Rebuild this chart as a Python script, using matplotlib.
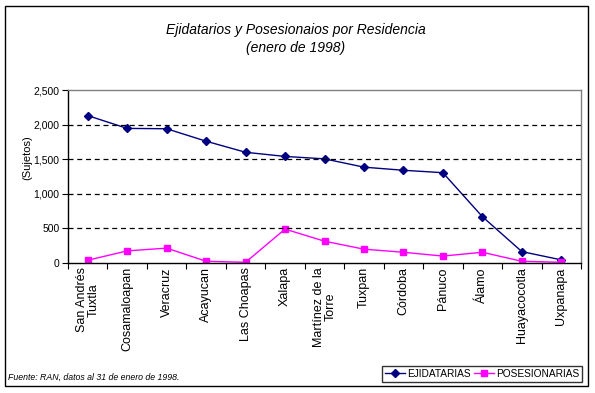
import matplotlib.pyplot as plt
from matplotlib.patches import Rectangle
from matplotlib.ticker import FuncFormatter

plt.rcParams['font.family'] = ['Liberation Sans', 'DejaVu Sans']

# datos
municipios = ['San Andrés\nTuxtla', 'Cosamaloapan', 'Veracruz', 'Acayucan', 'Las Choapas',
              'Xalapa', 'Martínez de la\nTorre', 'Tuxpan', 'Córdoba', 'Pánuco', 'Álamo',
              'Huayacocotla', 'Uxpanapa']
ejidatarias = [2130, 1945, 1940, 1760, 1600, 1540, 1505, 1385, 1340, 1305, 670, 165, 45]
posesionarias = [40, 175, 215, 25, 10, 490, 315, 200, 155, 100, 155, 25, 10]
yticks = [0, 500, 1000, 1500, 2000, 2500]

W, H = 595, 393
fig = plt.figure(figsize=(W / 100, H / 100), dpi=100)
ax = fig.add_axes([68 / W, 1 - 263 / H, (581 - 68) / W, (263 - 90) / H])

x = [i + 0.5 for i in range(len(municipios))]
ax.plot(x, ejidatarias, color='#000080', lw=1, marker='D', ms=4.5, label='EJIDATARIAS')
ax.plot(x, posesionarias, color='#FF00FF', lw=1, marker='s', ms=5, label='POSESIONARIAS')

ax.set_xlim(0, len(municipios))
ax.set_ylim(0, 2500)
ax.set_yticks(yticks)
ax.yaxis.set_major_formatter(FuncFormatter(lambda v, p: f'{int(v):,}'))
ax.tick_params(axis='y', labelsize=7.5, length=4, direction='out', pad=2)

# ticks between categories, labels at centres
ax.set_xticks(range(len(municipios) + 1))
ax.set_xticklabels([])
ax.set_xticks(x, minor=True)
ax.set_xticklabels(municipios, minor=True, rotation=90, fontsize=9, va='top', ha='center',
                   multialignment='center', linespacing=0.95)
ax.tick_params(axis='x', which='major', length=4, direction='out')
ax.tick_params(axis='x', which='minor', length=0, pad=3)

for v in yticks[1:-1]:
    ax.axhline(v, color='black', lw=0.9, ls=(0, (4, 3)))

ax.spines['top'].set_color('#808080')
ax.spines['right'].set_color('#808080')
for s in ax.spines.values():
    s.set_linewidth(1)

fig.text(27 / W, 1 - 158 / H, '(Sujetos)', rotation=90, fontsize=8, ha='center', va='center')

fig.text(296 / W, 1 - 30 / H, 'Ejidatarios y Posesionaios por Residencia', fontsize=10,
         style='italic', ha='center', va='center')
fig.text(296 / W, 1 - 48 / H, '(enero de 1998)', fontsize=10, style='italic',
         ha='center', va='center')
fig.text(8 / W, 1 - 377 / H, 'Fuente: RAN, datos al 31 de enero de 1998.', fontsize=6.3,
         style='italic', ha='left', va='center')

leg = fig.legend(loc='center', bbox_to_anchor=(482 / W, 1 - 374 / H), ncol=2, fontsize=7.3,
                 frameon=True, fancybox=False, edgecolor='black', borderpad=0.25,
                 handlelength=2.0, columnspacing=0.3, handletextpad=0.2, borderaxespad=0)
leg.get_frame().set_linewidth(1)

fig.patches.append(Rectangle((5 / W, 1 - 386 / H), 583 / W, 380 / H, transform=fig.transFigure,
                             fill=False, edgecolor='black', lw=1))

fig.savefig('out.png', dpi=100)
